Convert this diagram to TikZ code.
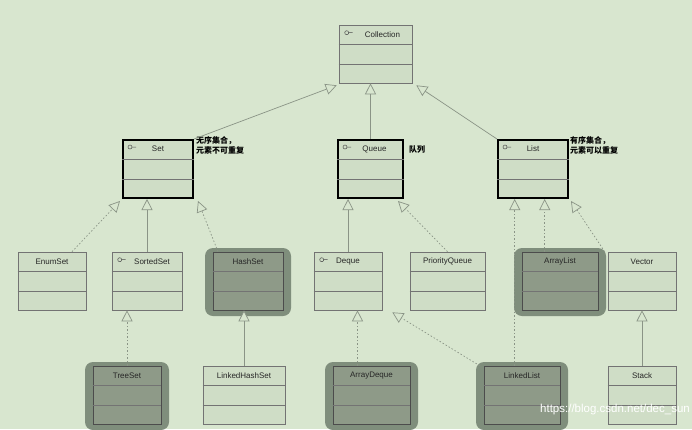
\documentclass[tikz,border=0pt]{standalone}
\usepackage{fontspec}
\setmainfont{Liberation Sans}
\newfontfamily\cjk{Noto Sans CJK SC}
\usetikzlibrary{arrows.meta,calc}
\definecolor{bg}{HTML}{D8E6CF}
\definecolor{boxbg}{HTML}{CFDDC6}
\definecolor{halo}{HTML}{7F8E7C}
\definecolor{graybox}{HTML}{8E9A88}
\definecolor{edge}{HTML}{8A9486}
\tikzset{
  cbox/.style={draw=black!55,fill=boxbg,line width=0.6pt,inner sep=0pt},
  thickbox/.style={cbox,draw=black,line width=2pt},
  darkbox/.style={cbox,fill=graybox,draw=black!70},
  gen/.style={-{Triangle[open,length=11pt,width=11pt,fill=bg]},draw=edge,line width=0.7pt},
  real/.style={gen,dash pattern=on 1.5pt off 2pt},
  lbl/.style={font=\fontsize{8}{9}\selectfont,text=black!85},
  note/.style={font=\cjk\fontsize{8}{10}\selectfont\bfseries,align=left,anchor=north west,inner sep=0pt}
}
\newcommand\cls[6]{%
  \node[#6,minimum width=#4,minimum height=58] (#1) at (#2,#3) {};
  \draw[black!55,line width=0.5pt] ($(#1.north west)!0.34!(#1.south west)$) -- ($(#1.north east)!0.34!(#1.south east)$);
  \draw[black!55,line width=0.5pt] ($(#1.north west)!0.67!(#1.south west)$) -- ($(#1.north east)!0.67!(#1.south east)$);
  \node[lbl] at ($(#1.north)+(0,10)$) {#5};
}
\newcommand\halo[3]{\fill[halo,rounded corners=8pt] (#1-#3/2-8,#2-29-4) rectangle (#1+#3/2+8,#2+29+6);}
\newcommand\iface[1]{\draw[black!70,line width=0.5pt] ($(#1.north west)+(8,8)$) circle (2) ++(2,0) -- ++(4,0);}
\begin{document}
\begin{tikzpicture}[x=1pt,y=-1pt]
\fill[bg] (0,0) rectangle (692,429);
\useasboundingbox (0,0) rectangle (692,429);
\halo{248}{281}{70}\halo{560}{281}{76}\halo{127}{395}{68}\halo{371.5}{395}{77}\halo{522}{395}{76}
\cls{coll}{375.5}{54}{73}{\hspace{14pt}Collection}{cbox}\iface{coll}
\cls{set}{158}{169}{70}{Set}{thickbox}\iface{set}
\cls{queue}{370.5}{169}{65}{\hspace{8pt}Queue}{thickbox}\iface{queue}
\cls{list}{533}{169}{70}{List}{thickbox}\iface{list}
\cls{enum}{52}{281}{68}{EnumSet}{cbox}
\cls{sorted}{147}{281}{70}{\hspace{10pt}SortedSet}{cbox}\iface{sorted}
\cls{hash}{248}{281}{70}{HashSet}{darkbox}
\cls{deque}{348}{281}{68}{Deque}{cbox}\iface{deque}
\cls{pq}{447.5}{281}{75}{PriorityQueue}{cbox}
\cls{alist}{560}{281}{76}{ArrayList}{darkbox}
\cls{vector}{642}{281}{68}{Vector}{cbox}
\cls{tree}{127}{395}{68}{TreeSet}{darkbox}
\cls{lhs}{244}{395}{82}{LinkedHashSet}{cbox}
\cls{adeque}{371.5}{395}{77}{ArrayDeque}{darkbox}
\cls{llist}{522}{395}{76}{LinkedList}{darkbox}
\cls{stack}{642}{395}{68}{Stack}{cbox}
\node[note] (n1) at (196,136) {无序集合，\\元素不可重复};
\node[note] (n2) at (409,146) {队列};
\node[note] (n3) at (570,136) {有序集合，\\元素可以重复};
\draw[gen] (set.north east) -- ($(coll.south west)+(-2,2)$);
\draw[gen] (queue.north) -- (queue.north|-coll.south);
\draw[gen] (list.north west) -- ($(coll.south east)+(4,2)$);
\draw[real] ($(enum.north)+(20,0)$) coordinate (e1) -- ($(set.south west)+(-2,2)$);
\draw[gen] (sorted.north) -- (sorted.north|-set.south);
\draw[real] ($(hash.north)+(-30,0)$) coordinate (h1) -- ($(set.south east)+(4,2)$);
\draw[gen] (deque.north) -- (deque.north|-queue.south);
\draw[real] (pq.north) -- ($(queue.south east)+(-6,2)$);
\draw[real] ($(llist.north west)+(31,0)$) coordinate (l1) -- (l1|-list.south);
\draw[real] ($(alist.north west)+(23,0)$) coordinate (a1) -- (a1|-list.south);
\draw[real] ($(vector.north west)+(-3,0)$) coordinate (v1) -- ($(list.south east)+(2,2)$);
\draw[real] (tree.north) -- (tree.north|-sorted.south);
\draw[gen] (lhs.north) -- (lhs.north|-hash.south);
\draw[real] ($(adeque.north)+(-14,0)$) coordinate (d1) -- (d1|-deque.south);
\draw[real] ($(llist.north west)+(-4,0)$) coordinate (l2) -- ($(deque.south east)+(10,2)$);
\draw[gen] (stack.north) -- (stack.north|-vector.south);
\node[text=white,font=\fontsize{11.5}{12}\selectfont,anchor=east,inner sep=0pt] (wm) at (690,410) {https://blog.csdn.net/dec\_sun};
\end{tikzpicture}
\end{document}
